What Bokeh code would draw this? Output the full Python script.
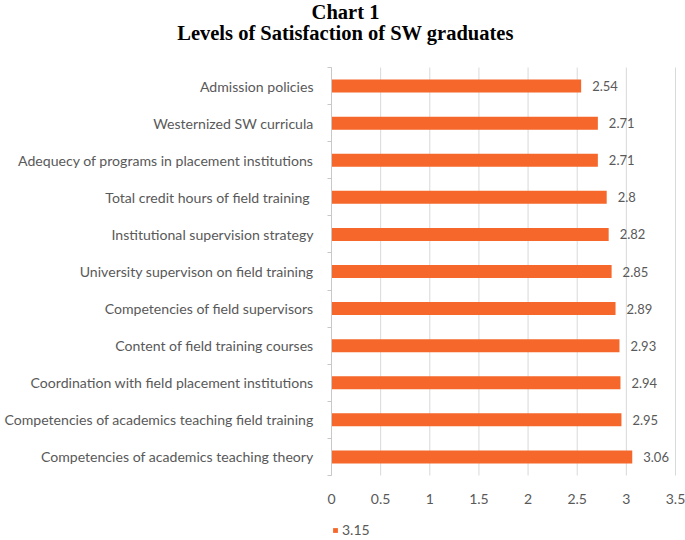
from bokeh.plotting import figure
from bokeh.models import (Range1d, FixedTicker, Label, Legend, LegendItem,
                          ColumnDataSource)
from bokeh.core.properties import value
from bokeh.embed import file_html
from bokeh.resources import INLINE

categories = [
    "Admission policies",
    "Westernized SW curricula",
    "Adequecy of programs in placement institutions",
    "Total credit hours of field training ",
    "Institutional supervision strategy",
    "University supervison on field training",
    "Competencies of field supervisors",
    "Content of field training courses",
    "Coordination with field placement institutions",
    "Competencies of academics teaching field training",
    "Competencies of academics teaching theory",
]
values = [2.54, 2.71, 2.71, 2.8, 2.82, 2.85, 2.89, 2.93, 2.94, 2.95, 3.06]
series_name = "3.15"
x_ticks = [0, 0.5, 1, 1.5, 2, 2.5, 3, 3.5]
title_line1 = "Chart 1"
title_line2 = "Levels of Satisfaction of SW graduates"

n = len(categories)
ys = [n - i - 0.5 for i in range(n)]
labels = [f"{v:g}" for v in values]

src = ColumnDataSource(dict(y=ys, v=values, lab=labels, cat=categories))
grid_src = ColumnDataSource(dict(x=x_ticks, y0=[0] * len(x_ticks),
                                 y1=[n] * len(x_ticks)))

FONT = "Lato"
GREY = "#595959"
ORANGE = "#F5672A"

# ---- layout (pixels): the frame fills the whole 685x540 canvas ----
W, H = 685, 540
AX_LEFT, AX_RIGHT = 331, 675      # pixel of x=0 and x=3.5
AX_TOP, AX_BOTTOM = 67, 475       # pixel of top and bottom of the category block
x_max = x_ticks[-1]
sx = (AX_RIGHT - AX_LEFT) / x_max
sy = (AX_BOTTOM - AX_TOP) / n
x_range = Range1d(-AX_LEFT / sx, x_max + (W - AX_RIGHT) / sx)
y_range = Range1d(-(H - AX_BOTTOM) / sy, n + AX_TOP / sy)


def px_to_x(px):
    return (px - AX_LEFT) / sx


def px_to_y(py):
    return n + (AX_TOP - py) / sy


p = figure(width=W, height=H, output_backend="svg", toolbar_location=None,
           x_range=x_range, y_range=y_range,
           min_border_left=0, min_border_right=0,
           min_border_top=0, min_border_bottom=0)
p.outline_line_color = None
p.background_fill_color = "white"
p.border_fill_color = "white"
p.grid.visible = False
p.title.visible = False

p.segment(x0="x", x1="x", y0="y0", y1="y1", source=grid_src,
          line_color="#D9D9D9", line_width=1, level="underlay")

r = p.hbar(y="y", right="v", left=0, height=0.35, source=src,
           fill_color=ORANGE, line_color=None)
p.text(x="v", y="y", text="lab", source=src, x_offset=11,
       text_baseline="middle", text_align="left",
       text_color=GREY, text_font_size="13px", text_font=value(FONT))

# x axis drawn at y = 0
p.xaxis.fixed_location = 0
p.xaxis.ticker = FixedTicker(ticks=x_ticks)
p.xaxis.axis_line_color = None
p.xaxis.major_tick_line_color = None
p.xaxis.minor_tick_line_color = None
p.xaxis.major_label_standoff = 12
p.xaxis.major_label_text_font = FONT
p.xaxis.major_label_text_font_size = "14px"
p.xaxis.major_label_text_color = GREY

# y axis drawn at x = 0: labels at centres, ticks at category boundaries
p.yaxis.fixed_location = 0
p.yaxis.bounds = (0, n)
p.yaxis.ticker = FixedTicker(ticks=ys, minor_ticks=[float(i) for i in range(n + 1)])
p.yaxis.major_label_overrides = {y: c for y, c in zip(ys, categories)}
p.yaxis.major_tick_line_color = None
p.yaxis.minor_tick_line_color = "#C8C8C8"
p.yaxis.minor_tick_out = 4
p.yaxis.minor_tick_in = 0
p.yaxis.axis_line_color = "#C8C8C8"
p.yaxis.major_label_standoff = 12
p.yaxis.major_label_text_font = FONT
p.yaxis.major_label_text_font_size = "14.1px"
p.yaxis.major_label_text_color = GREY

# titles
for txt, base_px in ((title_line1, 11), (title_line2, 32)):
    p.add_layout(Label(x=px_to_x(345), y=px_to_y(base_px), text=txt,
                       text_align="center", text_baseline="alphabetic",
                       text_font="Liberation Serif", text_font_size="20.5px",
                       text_font_style="bold", text_color="black"))

legend = Legend(items=[LegendItem(label=series_name, renderers=[r])],
                location=(332, 2), orientation="horizontal",
                glyph_width=6, glyph_height=6, label_standoff=4,
                label_text_font=FONT, label_text_font_size="14px",
                label_text_color=GREY, border_line_color=None,
                background_fill_alpha=0, padding=0, margin=0, spacing=0)
p.add_layout(legend)

open("out.html", "w").write(file_html(p, INLINE))
